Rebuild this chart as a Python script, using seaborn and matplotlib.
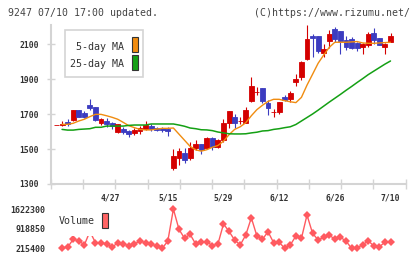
#!/usr/bin/env python3

# plot.py
#
# Daily candlestick chart with moving averages and volume.
import matplotlib
matplotlib.use('Agg')
import matplotlib.pyplot as plt
from matplotlib.patches import Rectangle
import numpy as np
import pandas as pd
import seaborn as sns


W, H = 420, 259

# Daily prices (trading day index 0..60)
opens = [1637, 1640, 1654, 1666, 1723, 1707, 1753, 1741, 1650, 1660,
         1649, 1597, 1616, 1601, 1593, 1605, 1614, 1631, 1620, 1618,
         1614, 1393, 1450, 1475, 1450, 1507, 1529, 1504, 1561, 1510,
         1551, 1650, 1683, 1662, 1650, 1776, 1827, 1849, 1765, 1713,
         1713, 1799, 1786, 1883, 1913, 2014, 2148, 2146, 2050, 2119,
         2186, 2174, 2123, 2129, 2107, 2084, 2096, 2161, 2133, 2084,
         2113]
highs = [1637, 1660, 1670, 1723, 1723, 1717, 1786, 1741, 1677, 1675,
         1652, 1643, 1626, 1607, 1618, 1631, 1660, 1645, 1627, 1627,
         1624, 1500, 1504, 1507, 1542, 1551, 1529, 1570, 1570, 1557,
         1670, 1717, 1698, 1685, 1740, 1913, 1853, 1849, 1780, 1727,
         1770, 1807, 1833, 1929, 2001, 2210, 2157, 2146, 2100, 2180,
         2199, 2174, 2146, 2138, 2114, 2104, 2167, 2191, 2133, 2107,
         2161]
lows = [1637, 1632, 1631, 1660, 1685, 1679, 1723, 1660, 1637, 1624,
        1614, 1593, 1587, 1570, 1582, 1587, 1609, 1601, 1603, 1597,
        1576, 1382, 1409, 1418, 1437, 1494, 1470, 1498, 1494, 1504,
        1542, 1618, 1622, 1641, 1647, 1770, 1809, 1761, 1694, 1685,
        1698, 1774, 1770, 1862, 1894, 2009, 2027, 2047, 2027, 2075,
        2110, 2043, 2066, 2070, 2060, 2043, 2084, 2100, 2096, 2043,
        2110]
closes = [1637, 1641, 1641, 1723, 1685, 1685, 1736, 1666, 1671, 1643,
          1631, 1643, 1597, 1587, 1609, 1622, 1639, 1614, 1609, 1609,
          1603, 1460, 1489, 1437, 1507, 1529, 1494, 1561, 1513, 1551,
          1650, 1717, 1647, 1662, 1723, 1860, 1827, 1776, 1736, 1713,
          1770, 1780, 1822, 1900, 1997, 2129, 2136, 2062, 2071, 2157,
          2129, 2119, 2084, 2077, 2077, 2100, 2157, 2123, 2096, 2102,
          2146]

ma5 = [np.nan, 1641, 1641, 1647, 1660, 1670, 1685, 1698, 1698, 1690,
       1681, 1670, 1652, 1633, 1622, 1612, 1609, 1609, 1614, 1618,
       1618, 1620, 1585, 1550, 1515, 1495, 1488, 1496, 1510, 1520,
       1545, 1582, 1612, 1627, 1650, 1690, 1725, 1750, 1772, 1784,
       1784, 1776, 1770, 1765, 1795, 1865, 1927, 1990, 2037, 2081,
       2110, 2110, 2110, 2112, 2114, 2106, 2104, 2104, 2106, 2108,
       2110]
ma25 = [np.nan, 1612, 1608, 1608, 1612, 1614, 1616, 1624, 1624, 1631,
        1631, 1631, 1631, 1635, 1637, 1637, 1637, 1643, 1643, 1643,
        1643, 1643, 1637, 1630, 1620, 1616, 1610, 1609, 1605, 1597,
        1592, 1587, 1586, 1586, 1587, 1592, 1596, 1603, 1605, 1612,
        1616, 1622, 1627, 1640, 1660, 1680, 1700, 1722, 1745, 1768,
        1790, 1812, 1835, 1857, 1880, 1902, 1925, 1945, 1965, 1985,
        2003]

volume = [np.nan, 240000, 251000, 538000, 488000, 334000, 820000, 417000,
          417000, 370000, 251000, 417000, 370000, 309000, 370000, 477000,
          417000, 370000, 298000, 215400, 477000, 1622300, 897000, 574000,
          718000, 370000, 431000, 452000, 309000, 370000, 1090000, 820000,
          513000, 334000, 692000, 1310000, 657000, 538000, 811000, 417000,
          431000, 215400, 334000, 657000, 574000, 1410000, 754000, 513000,
          610000, 692000, 538000, 610000, 477000, 215400, 240000, 334000,
          488000, 298000, 273000, 431000, 431000]

date_labels = ['4/27', '5/15', '5/29', '6/12', '6/26', '7/10']
date_days = [9.6, 20, 30, 40, 50, 60]
price_ticks = [1300, 1500, 1700, 1900, 2100]
volume_ticks = [215400, 918850, 1622300]

RED = '#d40000'
BLUE = '#3c3cc0'
ORANGE = '#f08c10'
GREEN = '#14a014'
VOLCOL = '#ff5a60'
AXIS = '#d4d4d4'
TEXT = '#333333'


def px(x, y):
    return x / W, 1 - y / H


def main():
    days = np.arange(len(closes))
    df = pd.DataFrame({'day': days, 'open': opens, 'high': highs, 'low': lows,
                       'close': closes, 'ma5': ma5, 'ma25': ma25, 'volume': volume})
    up = df['close'] >= df['open']
    colors = np.where(up, RED, BLUE)

    sns.set_theme(style='white')
    plt.rcParams['font.family'] = ['DejaVu Sans Mono']

    fig = plt.figure(figsize=(W / 100, H / 100), dpi=100)
    ax = fig.add_axes([50.7 / W, 1 - 184 / H, 355 / W, 159 / H])
    axv = fig.add_axes([50.7 / W, 1 - 252 / H, 355 / W, 47 / H])

    # Price panel
    ax.vlines(df['day'], df['low'], df['high'], colors=colors, lw=0.8, zorder=2)
    bottom = np.minimum(df['open'], df['close'])
    height = (df['close'] - df['open']).abs()
    ax.bar(df['day'], height, bottom=bottom, width=0.88, color=colors,
           edgecolor=colors, lw=0.6, zorder=3)
    sns.lineplot(data=df, x='day', y='ma5', ax=ax, color=ORANGE, lw=1.0, zorder=4)
    sns.lineplot(data=df, x='day', y='ma25', ax=ax, color=GREEN, lw=1.1, zorder=4)

    xlim = (-1.04, 62.73)
    ax.set_xlim(*xlim)
    ax.set_ylim(1300, 2208.6)
    ax.set_xlabel('')
    ax.set_ylabel('')
    ax.set_yticks(price_ticks)
    ax.set_yticklabels([str(t) for t in price_ticks])
    ax.set_xticks(np.linspace(xlim[0], xlim[1], 12))
    ax.set_xticklabels([])
    ax.set_xticks(date_days, date_labels, minor=True)
    ax.tick_params(axis='y', which='major', direction='inout', length=6, width=1,
                   color=AXIS, labelsize=5.8, labelcolor=TEXT, pad=5.5, left=True)
    ax.tick_params(axis='x', which='major', direction='inout', length=7.5, width=1,
                   color=AXIS, bottom=True)
    ax.tick_params(axis='x', which='minor', length=0, labelsize=5.8,
                   labelcolor=TEXT, pad=6.5)
    for side in ['top', 'right']:
        ax.spines[side].set_visible(False)
    for side in ['left', 'bottom']:
        ax.spines[side].set_color(AXIS)
        ax.spines[side].set_linewidth(1.5)
    for lab in ax.get_yticklabels() + ax.get_xticklabels(minor=True):
        lab.set_fontweight('bold')

    # Volume panel
    sns.lineplot(data=df, x='day', y='volume', ax=axv, color=VOLCOL, lw=1.0,
                 marker='D', markersize=4, markeredgewidth=0)
    axv.set_xlim(*xlim)
    axv.set_ylim(82607, 1769437)
    axv.set_xlabel('')
    axv.set_ylabel('')
    axv.set_xticks([])
    axv.set_yticks(volume_ticks)
    axv.set_yticklabels([str(t) for t in volume_ticks])
    axv.tick_params(axis='y', length=0, labelsize=6, labelcolor=TEXT, pad=4)
    for lab in axv.get_yticklabels():
        lab.set_fontweight('bold')
    for side in axv.spines:
        axv.spines[side].set_visible(False)
    axv.patch.set_alpha(0)

    # Header
    fig.text(*px(8, 12.5), '9247 07/10 17:00 updated.', ha='left', va='center',
             fontsize=7.1, color='#444444')
    fig.text(*px(410.5, 12.5), '(C)https://www.rizumu.net/', ha='right', va='center',
             fontsize=7.1, color='#444444')

    # Moving average legend
    x0, y0 = px(65, 77)
    fig.add_artist(Rectangle((x0, y0), 78 / W, 47 / H, transform=fig.transFigure,
                             facecolor='white', edgecolor=AXIS, lw=1.2, zorder=5))
    fig.text(*px(124.5, 46.5), '5-day MA', ha='right', va='center', fontsize=7.2,
             color=TEXT, zorder=6)
    fig.text(*px(124.5, 63.5), '25-day MA', ha='right', va='center', fontsize=7.2,
             color=TEXT, zorder=6)
    for top, col in [(37, ORANGE), (54.5, GREEN)]:
        bx, by = px(131.5, top + 15)
        fig.add_artist(Rectangle((bx, by), 6 / W, 15 / H, transform=fig.transFigure,
                                 facecolor=col, edgecolor='#333333', lw=0.8, zorder=6))

    # Volume legend
    vx, vy = px(55, 236)
    fig.add_artist(Rectangle((vx, vy), 58 / W, 28 / H, transform=fig.transFigure,
                             facecolor='white', edgecolor='none', zorder=5))
    fig.text(*px(59, 221.5), 'Volume', ha='left', va='center', fontsize=7.2,
             color=TEXT, zorder=6)
    bx, by = px(101.7, 228)
    fig.add_artist(Rectangle((bx, by), 6 / W, 15 / H, transform=fig.transFigure,
                             facecolor='#ff6464', edgecolor='#333333', lw=0.8, zorder=6))

    fig.savefig('out.png', dpi=100)
    plt.close(fig)


if __name__ == '__main__':
    main()
